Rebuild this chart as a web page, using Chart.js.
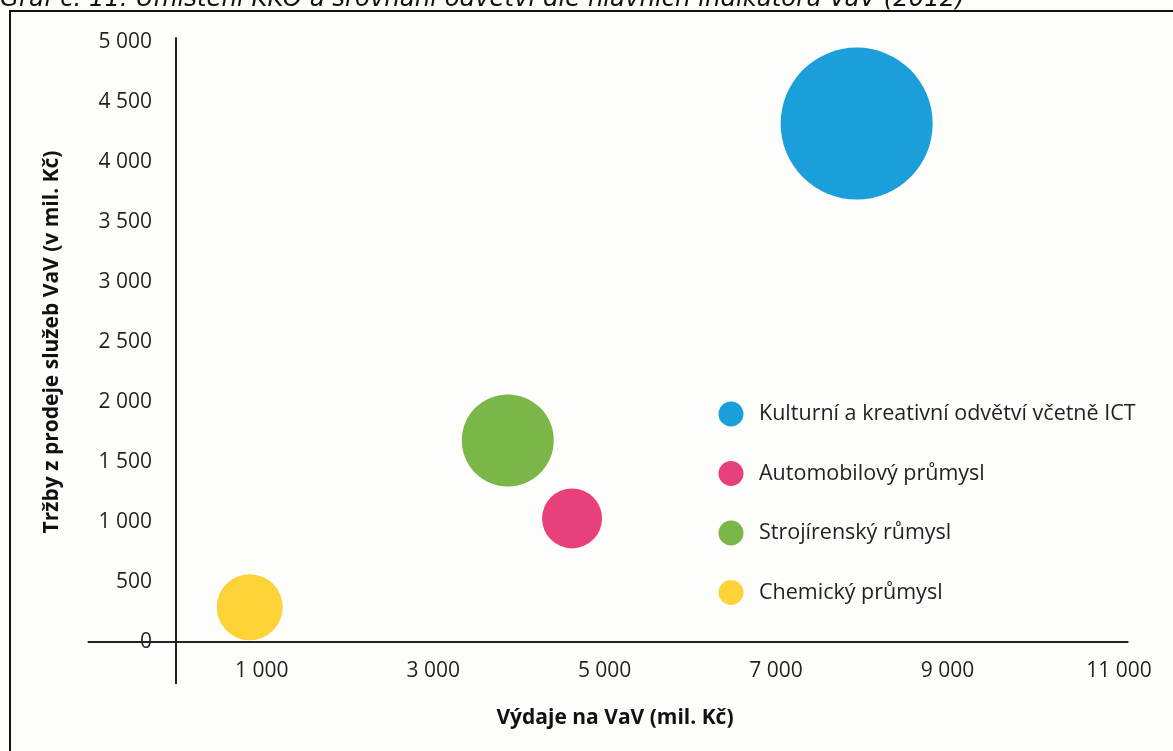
<!DOCTYPE html>
<html>
<head>
<meta charset="utf-8">
<script src="https://cdn.jsdelivr.net/npm/chart.js@4.4.1/dist/chart.umd.min.js"></script>
<style>
  html, body { margin: 0; padding: 0; background: #fdfdfb; overflow: hidden; }
  #frame {
    position: absolute; left: 9px; top: 10px; width: 1200px; height: 800px;
    border: 2px solid #111; box-sizing: border-box;
  }
  #wrap { position: absolute; left: 0; top: 0; width: 1173px; height: 751px; }
</style>
</head>
<body>
<div id="frame"></div>
<div id="wrap"><canvas id="chart" width="1173" height="751"></canvas></div>
<script>
const ctx = document.getElementById('chart');

const nadpis = 'Graf č. 11: Umístění KKO a srovnání odvětví dle hlavních indikátorů VaV (2012)';
const odvetvi = ['Kulturní a kreativní odvětví včetně ICT', 'Automobilový průmysl', 'Strojírenský růmysl', 'Chemický průmysl'];
const barvy = ['#1b9fdb', '#e8407a', '#7ab648', '#fdd338'];
const vydaje = [7940, 4620, 3870, 860];     // mil. Kč
const trzby = [4320, 1030, 1680, 290];      // mil. Kč
const velikost = [76, 30, 46, 33];
const xTicks = [1000, 3000, 5000, 7000, 9000, 11000];

const fmt = (v) => String(v).replace(/\B(?=(\d{3})+(?!\d))/g, ' ');

const datasets = odvetvi.map((name, i) => ({
	label: name,
	data: [{ x: vydaje[i], y: trzby[i], r: velikost[i] }],
	backgroundColor: barvy[i],
	borderWidth: 0,
	clip: false,
}));

// osy jako v originale - cary presahuji rozsah dat
const osy = {
	id: 'osy',
	beforeDatasetsDraw(chart) {
		const { ctx: c, scales: { x, y } } = chart;
		c.save();
		c.strokeStyle = '#222';
		c.lineWidth = 2;
		c.beginPath();
		c.moveTo(x.getPixelForValue(-1030), y.getPixelForValue(0));
		c.lineTo(x.getPixelForValue(11110), y.getPixelForValue(0));
		c.moveTo(x.getPixelForValue(0), y.getPixelForValue(5040));
		c.lineTo(x.getPixelForValue(0), y.getPixelForValue(-350));
		c.stroke();
		c.restore();
	},
};

const popisky = {
	id: 'popisky',
	afterDraw(chart) {
		const c = chart.ctx;
		c.save();
		// nadpis grafu, oriznuty hornim okrajem
		c.font = 'italic 20px "DejaVu Sans", sans-serif';
		const w = c.measureText(nadpis).width;
		c.font = `italic ${(20 * 965 / w).toFixed(2)}px "DejaVu Sans", sans-serif`;
		c.fillStyle = '#111';
		c.textBaseline = 'alphabetic';
		c.fillText(nadpis, 0, 6);
		// popis osy x
		c.font = 'bold 21px "Open Sans", sans-serif';
		c.textAlign = 'center';
		c.textBaseline = 'middle';
		c.fillText('Výdaje na VaV (mil. Kč)', 615, 718);
		c.restore();
	},
};

const legenda = {
	id: 'legenda',
	afterDatasetsDraw(chart) {
		const c = chart.ctx;
		c.save();
		c.font = '21.5px "Open Sans", sans-serif';
		c.textBaseline = 'middle';
		chart.data.datasets.forEach((ds, i) => {
			const yy = 414 + i * 59.5;
			c.fillStyle = ds.backgroundColor;
			c.beginPath();
			c.arc(731, yy, 12.5, 0, Math.PI * 2);
			c.fill();
			c.fillStyle = '#231f20';
			c.fillText(ds.label, 759, yy);
		});
		c.restore();
	},
};

new Chart(ctx, {
	type: 'bubble',
	data: { datasets: datasets },
	options: {
		responsive: false,
		animation: false,
		layout: { autoPadding: false, padding: { left: 0, top: 42, right: 54, bottom: 0 } },
		plugins: { legend: { display: false }, tooltip: { enabled: false } },
		scales: {
			x: {
				type: 'linear',
				min: 0,
				max: 11000,
				grid: { display: false, drawTicks: false },
				border: { display: false },
				afterBuildTicks: (axis) => { axis.ticks = xTicks.map((v) => ({ value: v })); },
				afterFit: (axis) => { axis.height = 109; },
				ticks: {
					padding: 16,
					color: '#231f20',
					font: { family: 'Open Sans', size: 21 },
					maxRotation: 0,
					callback: (v) => fmt(v),
				},
			},
			y: {
				type: 'linear',
				min: 0,
				max: 5000,
				grid: { display: false, drawTicks: false },
				border: { display: false },
				afterFit: (axis) => { axis.width = 176; },
				ticks: {
					stepSize: 500,
					padding: 24,
					color: '#231f20',
					font: { family: 'Open Sans', size: 21 },
					callback: (v) => fmt(v),
				},
				title: {
					display: true,
					text: 'Tržby z prodeje služeb VaV (v mil. Kč)',
					color: '#111',
					font: { family: 'Open Sans', size: 21, weight: 'bold' },
					padding: { top: 39, bottom: 0 },
				},
			},
		},
	},
	plugins: [osy, legenda, popisky],
});
</script>
</body>
</html>
